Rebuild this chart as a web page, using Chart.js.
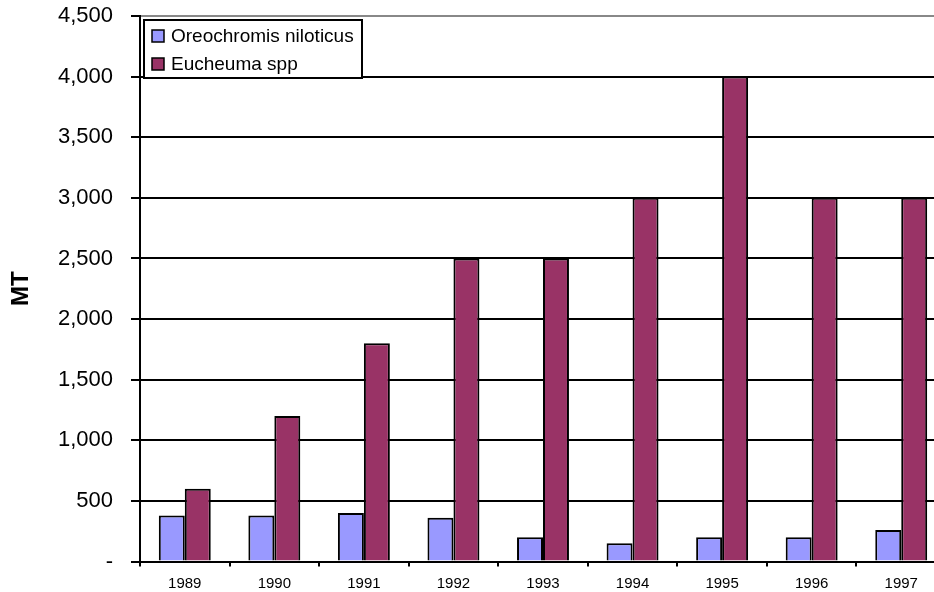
<!DOCTYPE html>
<html>
<head>
<meta charset="utf-8">
<script src="https://cdn.jsdelivr.net/npm/chart.js@4/dist/chart.umd.min.js"></script>
<style>
html, body { margin: 0; padding: 0; overflow: hidden; background: #fff; }
#wrap { position: relative; width: 946px; height: 592px; }
</style>
</head>
<body>
<div id="wrap"><canvas id="myChart"></canvas></div>
<script>
var years = ["1989", "1990", "1991", "1992", "1993", "1994", "1995", "1996", "1997"];
var oreochromis = [380, 380, 400, 360, 200, 150, 200, 200, 260];
var eucheuma = [600, 1200, 1800, 2500, 2500, 3000, 4000, 3000, 3000];
var seriesNames = ["Oreochromis niloticus", "Eucheuma spp"];
var yTicks = [0, 500, 1000, 1500, 2000, 2500, 3000, 3500, 4000, 4500];

var FONT = "Arial, 'Liberation Sans', sans-serif";

// legend box drawn inside the plot area, top left
var boxLegend = {
    id: "boxLegend",
    afterDraw: function(chart) {
        var ctx = chart.ctx;
        var x = 144, y = 20, w = 218, h = 58;
        ctx.save();
        ctx.fillStyle = "#fff";
        ctx.fillRect(x, y, w, h);
        ctx.strokeStyle = "#000";
        ctx.lineWidth = 2;
        ctx.strokeRect(x, y, w, h);
        ctx.font = "19px " + FONT;
        ctx.textBaseline = "middle";
        chart.data.datasets.forEach(function(ds, i) {
            var cy = y + 16 + i * 28;
            ctx.fillStyle = ds.backgroundColor;
            ctx.fillRect(x + 8, cy - 6, 12, 12);
            ctx.lineWidth = 1.5;
            ctx.strokeStyle = "#000";
            ctx.strokeRect(x + 8, cy - 6, 12, 12);
            ctx.fillStyle = "#000";
            ctx.fillText(ds.label, x + 27, cy + 1);
        });
        ctx.restore();
    }
};

new Chart("myChart", {
    type: "bar",
    data: {
        labels: years,
        datasets: [
            {label: seriesNames[0], data: oreochromis, backgroundColor: "#9999FF", borderColor: "#000", borderWidth: 2},
            {label: seriesNames[1], data: eucheuma, backgroundColor: "#993366", borderColor: "#000", borderWidth: 2}
        ]
    },
    options: {
        responsive: true,
        maintainAspectRatio: false,
        animation: false,
        layout: {padding: {top: 16, left: 0, right: 0, bottom: 0}},
        datasets: {bar: {categoryPercentage: 0.58, barPercentage: 1}},
        plugins: {
            legend: {display: false},
            tooltip: {enabled: false}
        },
        scales: {
            x: {
                afterFit: function(s) { s.height = 30.5; },
                grid: {drawOnChartArea: false, drawTicks: true, tickLength: 5, color: "#000", lineWidth: 2},
                border: {color: "#000", width: 2},
                ticks: {color: "#000", font: {family: FONT, size: 15}, padding: 8}
            },
            y: {
                min: 0,
                max: 4500,
                afterFit: function(s) {
                    s.width = 140;
                    s.paddingTop = 0;     // tick padding would otherwise push the plot down
                    s.paddingBottom = 0;
                },
                afterBuildTicks: function(s) { s.ticks = yTicks.map(function(v) { return {value: v}; }); },
                grid: {
                    color: function(c) { return c.tick && c.tick.value === 4500 ? "#888" : "#000"; },
                    lineWidth: 2,
                    tickLength: 9,
                    tickColor: "#000"
                },
                border: {color: "#000", width: 2},
                ticks: {
                    color: "#000",
                    padding: 18,
                    font: {family: FONT, size: 22},
                    callback: function(v) { return v === 0 ? "-" : v.toLocaleString("en-US"); }
                },
                title: {
                    display: true,
                    text: "MT",
                    color: "#000",
                    font: {family: FONT, size: 24, weight: "bold"},
                    padding: {top: 7, bottom: 0}
                }
            }
        }
    },
    plugins: [boxLegend]
});
</script>
</body>
</html>
